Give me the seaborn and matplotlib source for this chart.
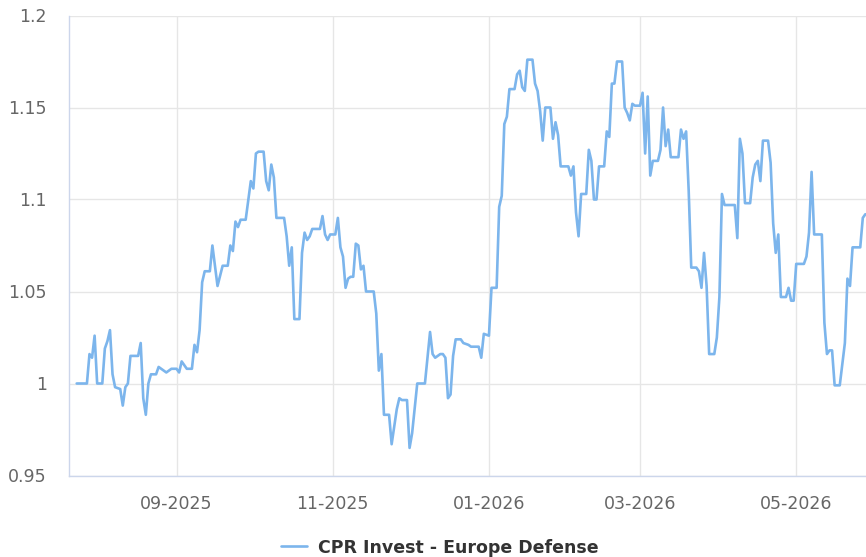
# -*- coding: utf-8 -*-
"""
Valeur liquidative — CPR Invest - Europe Defense
"""
import matplotlib
matplotlib.use('Agg')  # Backend non-interactif
import matplotlib.pyplot as plt
import matplotlib.dates as mdates
from matplotlib.ticker import FuncFormatter
import pandas as pd
import seaborn as sns

# ── Données ─────────────────────────────────────────────────────────
serie_nom = 'CPR Invest - Europe Defense'

dates = [
    '2025-07-24', '2025-07-28', '2025-07-29', '2025-07-30', '2025-07-31',
    '2025-08-01', '2025-08-03', '2025-08-04', '2025-08-05', '2025-08-06', '2025-08-07',
    '2025-08-08', '2025-08-10', '2025-08-11', '2025-08-12', '2025-08-13', '2025-08-14',
    '2025-08-17', '2025-08-18', '2025-08-19', '2025-08-20', '2025-08-21', '2025-08-22',
    '2025-08-24', '2025-08-25', '2025-08-26', '2025-08-28', '2025-08-30',
    '2025-09-01', '2025-09-02', '2025-09-03', '2025-09-05', '2025-09-07', '2025-09-08',
    '2025-09-09', '2025-09-10', '2025-09-11', '2025-09-12', '2025-09-14', '2025-09-15',
    '2025-09-17', '2025-09-19', '2025-09-21', '2025-09-22', '2025-09-23', '2025-09-24',
    '2025-09-25', '2025-09-26', '2025-09-28', '2025-09-30',
    '2025-10-01', '2025-10-02', '2025-10-03', '2025-10-05', '2025-10-06', '2025-10-07',
    '2025-10-08', '2025-10-09', '2025-10-10', '2025-10-13', '2025-10-14', '2025-10-15',
    '2025-10-16', '2025-10-17', '2025-10-19', '2025-10-20', '2025-10-21', '2025-10-22',
    '2025-10-23', '2025-10-24', '2025-10-27', '2025-10-28', '2025-10-29', '2025-10-30',
    '2025-10-31',
    '2025-11-02', '2025-11-03', '2025-11-04', '2025-11-05', '2025-11-06', '2025-11-07',
    '2025-11-08', '2025-11-09', '2025-11-10', '2025-11-11', '2025-11-12', '2025-11-13',
    '2025-11-14', '2025-11-17', '2025-11-18', '2025-11-19', '2025-11-20', '2025-11-21',
    '2025-11-23', '2025-11-24', '2025-11-26', '2025-11-27', '2025-11-28', '2025-11-30',
    '2025-12-01', '2025-12-02', '2025-12-04', '2025-12-07', '2025-12-09', '2025-12-10',
    '2025-12-11', '2025-12-13', '2025-12-14', '2025-12-15', '2025-12-16', '2025-12-17',
    '2025-12-18', '2025-12-19', '2025-12-21', '2025-12-22', '2025-12-24', '2025-12-25',
    '2025-12-28', '2025-12-29', '2025-12-30',
    '2026-01-01', '2026-01-02', '2026-01-04', '2026-01-05', '2026-01-06', '2026-01-07',
    '2026-01-08', '2026-01-09', '2026-01-11', '2026-01-12', '2026-01-13', '2026-01-14',
    '2026-01-15', '2026-01-16', '2026-01-18', '2026-01-19', '2026-01-20', '2026-01-21',
    '2026-01-22', '2026-01-23', '2026-01-25', '2026-01-26', '2026-01-27', '2026-01-28',
    '2026-01-29',
    '2026-02-01', '2026-02-02', '2026-02-03', '2026-02-04', '2026-02-05', '2026-02-06',
    '2026-02-08', '2026-02-09', '2026-02-10', '2026-02-11', '2026-02-12', '2026-02-13',
    '2026-02-15', '2026-02-16', '2026-02-17', '2026-02-18', '2026-02-19', '2026-02-20',
    '2026-02-22', '2026-02-23', '2026-02-24', '2026-02-25', '2026-02-26', '2026-02-27',
    '2026-03-01', '2026-03-02', '2026-03-03', '2026-03-04', '2026-03-05', '2026-03-06',
    '2026-03-08', '2026-03-09', '2026-03-10', '2026-03-11', '2026-03-12', '2026-03-13',
    '2026-03-16', '2026-03-17', '2026-03-18', '2026-03-19', '2026-03-20', '2026-03-21',
    '2026-03-23', '2026-03-24', '2026-03-25', '2026-03-26', '2026-03-27', '2026-03-28',
    '2026-03-30', '2026-03-31',
    '2026-04-01', '2026-04-02', '2026-04-03', '2026-04-07', '2026-04-08', '2026-04-09',
    '2026-04-10', '2026-04-11', '2026-04-13', '2026-04-14', '2026-04-15', '2026-04-16',
    '2026-04-17', '2026-04-18', '2026-04-20', '2026-04-21', '2026-04-22', '2026-04-23',
    '2026-04-24', '2026-04-25', '2026-04-27', '2026-04-28', '2026-04-29', '2026-04-30',
    '2026-05-01', '2026-05-04', '2026-05-05', '2026-05-06', '2026-05-07', '2026-05-08',
    '2026-05-11', '2026-05-12', '2026-05-13', '2026-05-14', '2026-05-15', '2026-05-16',
    '2026-05-18', '2026-05-20', '2026-05-21', '2026-05-22', '2026-05-23', '2026-05-26',
    '2026-05-27', '2026-05-28',
]

valeurs = [
    1.000, 1.000, 1.016, 1.014, 1.026,
    1.000, 1.000, 1.019, 1.023, 1.029, 1.005,
    0.998, 0.997, 0.988, 0.998, 1.000, 1.015,
    1.015, 1.022, 0.992, 0.983, 1.000, 1.005,
    1.005, 1.009, 1.008, 1.006, 1.008,
    1.008, 1.006, 1.012, 1.008, 1.008, 1.021,
    1.017, 1.029, 1.055, 1.061, 1.061, 1.075,
    1.053, 1.064, 1.064, 1.075, 1.072, 1.088,
    1.085, 1.089, 1.089, 1.110,
    1.106, 1.125, 1.126, 1.126, 1.110, 1.105,
    1.119, 1.112, 1.090, 1.090, 1.080, 1.064,
    1.074, 1.035, 1.035, 1.071, 1.082, 1.078,
    1.080, 1.084, 1.084, 1.091, 1.081, 1.078,
    1.081,
    1.081, 1.090, 1.074, 1.069, 1.052, 1.057,
    1.058, 1.058, 1.076, 1.075, 1.062, 1.064,
    1.050, 1.050, 1.038, 1.007, 1.016, 0.983,
    0.983, 0.967, 0.986, 0.992, 0.991, 0.991,
    0.965, 0.973, 1.000, 1.000, 1.028, 1.016,
    1.014, 1.016, 1.016, 1.014, 0.992, 0.994,
    1.015, 1.024, 1.024, 1.022, 1.021, 1.020,
    1.020, 1.014, 1.027,
    1.026, 1.052, 1.052, 1.096, 1.102, 1.141,
    1.145, 1.160, 1.160, 1.168, 1.170, 1.161,
    1.159, 1.176, 1.176, 1.163, 1.159, 1.148,
    1.132, 1.150, 1.150, 1.133, 1.142, 1.135,
    1.118,
    1.118, 1.113, 1.118, 1.093, 1.080, 1.103,
    1.103, 1.127, 1.121, 1.100, 1.100, 1.118,
    1.118, 1.137, 1.134, 1.163, 1.163, 1.175,
    1.175, 1.150, 1.147, 1.143, 1.152, 1.151,
    1.151, 1.158, 1.125, 1.156, 1.113, 1.121,
    1.121, 1.127, 1.150, 1.129, 1.138, 1.123,
    1.123, 1.138, 1.133, 1.137, 1.105, 1.063,
    1.063, 1.061, 1.052, 1.071, 1.053, 1.016,
    1.016, 1.025,
    1.047, 1.103, 1.097, 1.097, 1.079, 1.133,
    1.125, 1.098, 1.098, 1.112, 1.119, 1.121,
    1.110, 1.132, 1.132, 1.120, 1.087, 1.071,
    1.081, 1.047, 1.047, 1.052, 1.045, 1.045,
    1.065, 1.065, 1.069, 1.082, 1.115, 1.081,
    1.081, 1.033, 1.016, 1.018, 1.018, 0.999,
    0.999, 1.022, 1.057, 1.053, 1.074, 1.074,
    1.090, 1.092,
]

y_ticks = [0.95, 1.0, 1.05, 1.1, 1.15, 1.2]
x_ticks = ['2025-09-01', '2025-11-01', '2026-01-01', '2026-03-01', '2026-05-01']

df = pd.DataFrame({'date': pd.to_datetime(dates), 'valeur': valeurs})

# ── Style ───────────────────────────────────────────────────────────
sns.set_style('white')
plt.rcParams['font.family'] = ['DejaVu Sans']

fig = plt.figure(figsize=(8.66, 5.57), dpi=100)
ax = fig.add_axes([69 / 866, 81.5 / 557, 797 / 866, 460 / 557])

sns.lineplot(data=df, x='date', y='valeur', ax=ax, color='#7cb5ec',
             linewidth=1.9, label=serie_nom, legend=False)

# ── Axes ────────────────────────────────────────────────────────────
ax.set_xlim(pd.Timestamp('2025-07-21'), pd.Timestamp('2026-05-28 06:00'))
ax.set_ylim(0.95, 1.2)
ax.set_xticks(pd.to_datetime(x_ticks))
ax.xaxis.set_major_formatter(mdates.DateFormatter('%m-%Y'))
ax.set_yticks(y_ticks)
ax.yaxis.set_major_formatter(FuncFormatter(lambda v, p: f'{v:g}'))
ax.set_xlabel('')
ax.set_ylabel('')

ax.grid(True, color='#e6e6e6', linewidth=1)
ax.set_axisbelow(True)
for cote in ['top', 'right']:
    ax.spines[cote].set_visible(False)
for cote in ['left', 'bottom']:
    ax.spines[cote].set_color('#ccd6eb')
    ax.spines[cote].set_linewidth(1)

ax.tick_params(axis='x', length=10, width=1, color='#ccd6eb', pad=4,
               labelsize=12.5, labelcolor='#666666')
ax.tick_params(axis='y', length=0, pad=16, labelsize=12.5, labelcolor='#666666')

# ── Légende en bas ──────────────────────────────────────────────────
handles, labels = ax.get_legend_handles_labels()
fig.legend(handles, labels, loc='center', bbox_to_anchor=(0.508, 0.017),
           frameon=False, prop={'weight': 'bold', 'size': 12.5},
           labelcolor='#333333', handlelength=1.5, handletextpad=0.6)

fig.savefig('out.png', dpi=100)
